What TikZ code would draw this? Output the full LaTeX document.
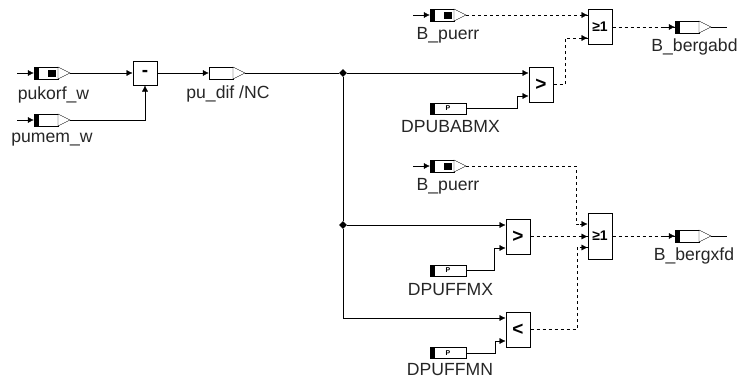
\documentclass[tikz,border=0pt]{standalone}
\usepackage{fontspec}
\setmainfont{Liberation Sans}
\usetikzlibrary{arrows.meta,calc,shapes.geometric}
\tikzset{
  x=1pt,y=-1pt,
  line width=0.9pt,
  wire/.style={draw=black,-{Latex[length=6pt,width=6pt]}},
  plainwire/.style={draw=black},
  dwire/.style={draw=black,dash pattern=on 3pt off 3pt},
  fn/.style={draw=black,fill=white,line width=1pt,inner sep=0pt,font=\fontsize{19}{19}\selectfont\bfseries},
  body/.style={draw=black,fill=white,inner sep=0pt,minimum width=24pt,minimum height=12pt},
  parbody/.style={draw=black,fill=white,inner sep=0pt,minimum width=36pt,minimum height=11pt},
  lbl/.style={inner sep=0pt,font=\fontsize{17.6}{17.6}\selectfont,text=black!85},
  dot/.style={diamond,fill=black,inner sep=0pt,minimum size=8pt},
}
% name, left x, y, has inner square, has black bar
\newcommand{\sigblock}[5]{%
  \node[body] (#1) at (#2+12,#3) {};
  \draw[fill=white] (#2+24,#3-6) -- (#2+36,#3) -- (#2+24,#3+6) -- cycle;
  \coordinate (#1-out) at (#2+36,#3);
  \ifnum#5=1 \fill[black] (#2,#3-6) rectangle (#2+5,#3+6);\fi
  \ifnum#4=1 \fill[black] (#2+14,#3-3.5) rectangle (#2+22,#3+3.5);\fi
}
\newcommand{\parblock}[3]{%
  \node[parbody] (#1) at (#2+18,#3) {};
  \fill[black] (#2,#3-5.5) rectangle (#2+5,#3+5.5);
  \node[inner sep=0pt,font=\fontsize{7}{7}\selectfont\bfseries] at (#2+18,#3) {P};
}
\begin{document}
\begin{tikzpicture}
\useasboundingbox (0,0) rectangle (739,383);
% blocks
\sigblock{pukorf}{34}{73}{1}{1}
\sigblock{pumem}{34}{120}{0}{1}
\sigblock{pudif}{209}{73}{0}{0}
\sigblock{puerrA}{430}{15}{1}{1}
\sigblock{puerrB}{430}{166}{1}{1}
\sigblock{bergabd}{675}{27}{0}{1}
\sigblock{bergxfd}{675}{236}{0}{1}
\parblock{dpubabmx}{430}{108.5}
\parblock{dpuffmx}{430}{270.5}
\parblock{dpuffmn}{430}{353}
% function boxes
\node[fn,minimum width=24pt,minimum height=24pt] (minus) at (145,73) {-};
\node[fn,minimum width=24pt,minimum height=35pt] (gtA) at (541,84.5) {>};
\node[fn,minimum width=24pt,minimum height=35pt] (gtB) at (518,236.5) {>};
\node[fn,minimum width=24pt,minimum height=35pt] (ltB) at (518,329.5) {<};
\node[fn,minimum width=24pt,minimum height=35pt,font=\fontsize{14}{14}\selectfont\bfseries] (orA) at (600,26.5) {≥1};
\node[fn,minimum width=24pt,minimum height=46pt,font=\fontsize{14}{14}\selectfont\bfseries] (orB) at (600,236) {≥1};
% labels
\node[lbl] (lpukorf) at (53.5,94.5) {pukorf\_w};
\node[lbl] (lpumem) at (52,139.5) {pumem\_w};
\node[lbl] (lpudif) at (228,93.5) {pu\_dif /NC};
\node[lbl] (lpuerrA) at (448,35) {B\_puerr};
\node[lbl] (lpuerrB) at (448,186.5) {B\_puerr};
\node[lbl] (lbergabd) at (694.5,47) {B\_bergabd};
\node[lbl] (lbergxfd) at (694,255.5) {B\_bergxfd};
\node[lbl] (lbabmx) at (450.5,126.5) {DPUBABMX};
\node[lbl] (lffmx) at (450.5,290) {DPUFFMX};
\node[lbl] (lffmn) at (450,370) {DPUFFMN};
% free ends
\coordinate (s1) at (17,73);
\coordinate (s2) at (17,120);
\coordinate (s3) at (413,15);
\coordinate (s4) at (413,166);
\coordinate (e1) at (727,27);
\coordinate (e2) at (727,236);
\coordinate (j1) at (343,73);
\coordinate (j2) at (343,225);
\node[dot] (J1) at (j1) {};
\node[dot] (J2) at (j2) {};
% stubs
\draw[wire] (s1) -- (pukorf.west);
\draw[wire] (s2) -- (pumem.west);
\draw[wire] (s3) -- (puerrA.west);
\draw[wire] (s4) -- (puerrB.west);
\draw[plainwire] (bergabd-out) -- (e1);
\draw[plainwire] (bergxfd-out) -- (e2);
% solid signals
\draw[wire] (pukorf-out) -- (minus.west |- pukorf-out);
\draw[wire] (pumem-out) -| (minus.south);
\draw[wire] (minus.east) -- (pudif.west);
\draw[plainwire] (pudif-out) -- (J1);
\draw[wire] (J1) -- (gtA.west |- J1);
\draw[plainwire] (J1) -- (J2);
\draw[wire] (J2) -- (gtB.west |- J2);
\coordinate (c3) at (343,318);
\draw[wire] (J2) -- (c3) -- (ltB.west |- c3);
% parameters
\coordinate (g1) at (517.5,96);
\draw[wire] (dpubabmx.east) -| (g1) -- (gtA.west |- g1);
\coordinate (g2) at (494.5,248);
\draw[wire] (dpuffmx.east) -| (g2) -- (gtB.west |- g2);
\coordinate (g3) at (495,341);
\draw[wire] (dpuffmn.east) -| (g3) -- (ltB.west |- g3);
% dashed signals
\coordinate (a1) at (orA.west |- puerrA-out);
\draw[dwire] (puerrA-out) -- (a1);
\draw[wire] ($(a1)+(-8,0)$) -- (a1);
\coordinate (a2) at (565,38);
\draw[dwire] (gtA.east) -- (a2 |- gtA.east) -- (a2) -- (orA.west |- a2);
\draw[wire] ($(orA.west |- a2)+(-8,0)$) -- (orA.west |- a2);
\draw[dwire] (orA.east |- bergabd) -- (bergabd.west);
\draw[wire] ($(bergabd.west)+(-12,0)$) -- (bergabd.west);
\coordinate (b1) at (576,224);
\draw[dwire] (puerrB-out) -- (b1 |- puerrB-out) -- (b1) -- (orB.west |- b1);
\draw[wire] ($(orB.west |- b1)+(-8,0)$) -- (orB.west |- b1);
\draw[dwire] (gtB.east) -- (orB.west |- gtB.east);
\draw[wire] ($(orB.west |- gtB.east)+(-8,0)$) -- (orB.west |- gtB.east);
\coordinate (b3) at (577,247.5);
\draw[dwire] (ltB.east) -- (b3 |- ltB.east) -- (b3) -- (orB.west |- b3);
\draw[wire] ($(orB.west |- b3)+(-8,0)$) -- (orB.west |- b3);
\draw[dwire] (orB.east) -- (bergxfd.west);
\draw[wire] ($(bergxfd.west)+(-12,0)$) -- (bergxfd.west);
\end{tikzpicture}
\end{document}
